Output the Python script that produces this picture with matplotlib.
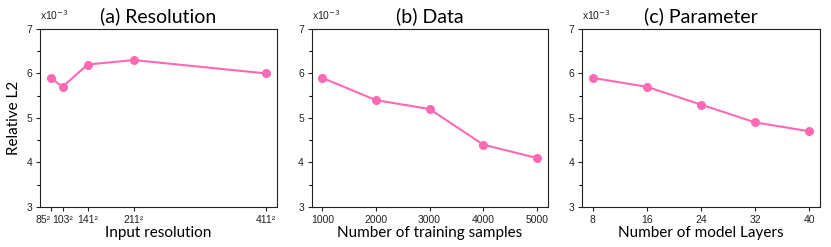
import matplotlib
matplotlib.use("Agg")
import matplotlib.pyplot as plt
from matplotlib.ticker import MultipleLocator

# relative L2 error, in units of 1e-3
res_x = [85, 103, 141, 211, 411]
res_labels = ["85²", "103²", "141²", "211²", "411²"]
res_err = [5.9, 5.7, 6.2, 6.3, 6.0]

data_x = [1000, 2000, 3000, 4000, 5000]
data_err = [5.9, 5.4, 5.2, 4.4, 4.1]

layer_x = [8, 16, 24, 32, 40]
layer_err = [5.9, 5.7, 5.3, 4.9, 4.7]

titles = ["(a) Resolution", "(b) Data", "(c) Parameter"]
xlabels = ["Input resolution", "Number of training samples", "Number of model Layers"]

color = "#ff69b4"
label_font = "Lato"
tick_font = "Liberation Sans"

fig = plt.figure(figsize=(8.31, 2.47), dpi=100)
boxes = [(0.048, 0.333), (0.375, 0.659), (0.700, 0.987)]
bottom, top = 0.162, 0.883

series = [(res_x, res_err, res_labels), (data_x, data_err, None), (layer_x, layer_err, None)]

for i, ((l, r), (xs, ys, lbls)) in enumerate(zip(boxes, series)):
    ax = fig.add_axes([l, bottom, r - l, top - bottom])
    ax.plot(xs, ys, "-o", color=color, lw=1.5, ms=5.5)
    ax.set_ylim(3, 7)
    ax.yaxis.set_major_locator(MultipleLocator(1))
    ax.yaxis.set_minor_locator(MultipleLocator(0.5))
    ax.set_xticks(xs)
    if lbls:
        ax.set_xticklabels(lbls)
    ax.tick_params(labelsize=7.5, length=3, width=0.8, pad=2.5, colors="#222222")
    ax.tick_params(which="minor", length=2, width=0.8)
    for t in ax.get_xticklabels() + ax.get_yticklabels():
        t.set_fontfamily(tick_font)
    if lbls:
        # first two resolution ticks sit close together
        ax.get_xticklabels()[0].set_horizontalalignment("right")
    for s in ax.spines.values():
        s.set_linewidth(0.8)
        s.set_color("#222222")
    ax.set_title(titles[i], fontsize=14, family=label_font, pad=5)
    ax.set_xlabel(xlabels[i], fontsize=11, family=label_font, labelpad=1)
    ax.text(0.0, 1.04, "x10$^{-3}$", transform=ax.transAxes, fontsize=7.5,
            family=tick_font, ha="left", va="bottom", color="#222222")
    if i == 0:
        ax.set_ylabel("Relative L2", fontsize=11, family=label_font, labelpad=4)

fig.savefig("out.png", dpi=100)
